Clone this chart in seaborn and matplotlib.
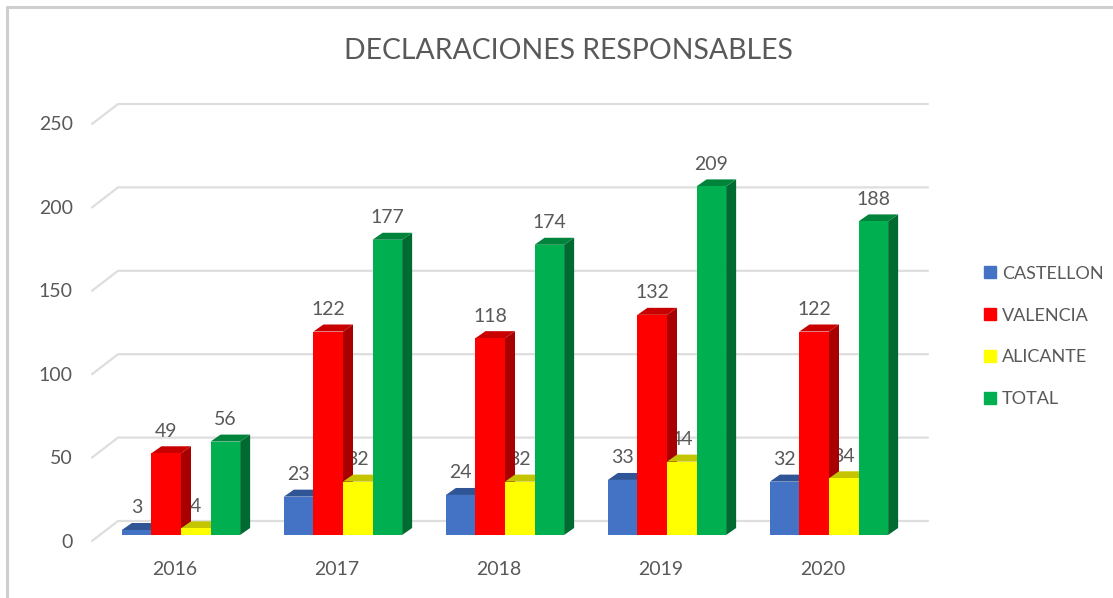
import numpy as np
import pandas as pd
import matplotlib
matplotlib.use('Agg')
import matplotlib.pyplot as plt
from matplotlib.patches import Polygon
from matplotlib.lines import Line2D
from matplotlib.transforms import Affine2D
import seaborn as sns

years = ['2016', '2017', '2018', '2019', '2020']
castellon = [3, 23, 24, 33, 32]
valencia = [49, 122, 118, 132, 122]
alicante = [4, 32, 32, 44, 34]
total = [56, 177, 174, 209, 188]
series_names = ['CASTELLON', 'VALENCIA', 'ALICANTE', 'TOTAL']
y_ticks = [0, 50, 100, 150, 200, 250]

front_colors = ['#4472C4', '#FF0000', '#FFFF00', '#00B050']
top_colors = ['#2F5597', '#C80000', '#C4C400', '#00843C']
side_colors = ['#2F5597', '#A80000', '#B0B000', '#006B30']
text_col = '#595959'

W, H = 1113, 598
sns.set_theme(style='white')
plt.rcParams['font.family'] = ['Lato', 'DejaVu Sans']

df = pd.DataFrame({'year': years * 4,
                   'provincia': np.repeat(series_names, 5),
                   'valor': castellon + valencia + alicante + total})

fig = plt.figure(figsize=(W / 100, H / 100), dpi=100)
# axes in pixels: x 100..910, value 0 at y=535
px_y = 1.668
ax_top = 535 - 260 * px_y
ax = fig.add_axes([100 / W, 1 - 535 / H, 810 / W, (535 - ax_top) / H])

sns.barplot(data=df, x='year', y='valor', hue='provincia', order=years, hue_order=series_names,
            palette=front_colors, width=0.73, gap=0, saturation=1, errorbar=None, ax=ax, legend=False)
ax.set_xlim(-0.5, 4.5)
ax.set_ylim(0, 260)
sns.despine(ax=ax, left=True, bottom=True)
ax.set_xlabel('')
ax.set_ylabel('')

px_x = 162.0
# back wall grid, with the slanted floor part on the left
for v in y_ticks:
    ax.plot([-0.5 - 8 / px_x, -0.5 + 18 / px_x, 4.5 + 18 / px_x],
            [v - 6 / px_y, v + 14 / px_y, v + 14 / px_y],
            color='#DEDEDE', lw=1.6, clip_on=False, zorder=1)

# depth of the bars
dx = 10 / px_x
dy = 7 / px_y
for i, cont in enumerate(ax.containers):
    for bar in cont:
        x0 = bar.get_x()
        x1 = x0 + bar.get_width()
        h = bar.get_height()
        bar.set_zorder(3 + i)
        bar.set_linewidth(0)
        side = Polygon([(x1, 0), (x1 + dx, dy), (x1 + dx, h + dy), (x1, h)],
                       fc=side_colors[i], ec='none', zorder=2.9 + i, clip_on=False)
        top = Polygon([(x0, h), (x0 + dx, h + dy), (x1 + dx, h + dy), (x1, h)],
                      fc=top_colors[i], ec='none', zorder=2.9 + i, clip_on=False)
        ax.add_patch(side)
        ax.add_patch(top)
        # labels sit behind the next bar's side, like in the original
        ax.annotate(str(int(h)), (x0 + (x1 - x0) / 2, h), xytext=(0, 22 * 0.72),
                    textcoords='offset points', ha='center', va='center',
                    fontsize=14, color=text_col, zorder=3.5, annotation_clip=False)

ax.set_xticks(np.arange(5) - 0.04, labels=years)
ax.set_yticks(y_ticks)
ax.tick_params(axis='x', length=0, pad=18.5, labelsize=14, labelcolor=text_col)
ax.tick_params(axis='y', length=0, pad=19.5, labelsize=14, labelcolor=text_col)
for t in ax.get_yticklabels():
    t.set_transform(t.get_transform() + Affine2D().translate(0, -5.5))

fig.text(568 / W, 1 - 51 / H, 'DECLARACIONES RESPONSABLES', ha='center', va='center',
         fontsize=20.4, color=text_col)

handles = [Line2D([], [], marker='s', ls='', ms=8.5, mfc=c, mec=c) for c in front_colors]
ax.legend(handles, series_names, loc='center left', bbox_to_anchor=(981 / W, 1 - 336.5 / H),
          bbox_transform=fig.transFigure, frameon=False, fontsize=13, labelcolor=text_col,
          labelspacing=1.43, handlelength=1, handletextpad=0.15, borderpad=0, borderaxespad=0)

# screenshot border top and left
fig.add_artist(Line2D([7 / W, 7 / W], [0, 1 - 7 / H], color='#CFCFCF', lw=2.2))
fig.add_artist(Line2D([7 / W, 1], [1 - 7 / H, 1 - 7 / H], color='#CFCFCF', lw=2.2))

fig.savefig('out.png', dpi=100)
